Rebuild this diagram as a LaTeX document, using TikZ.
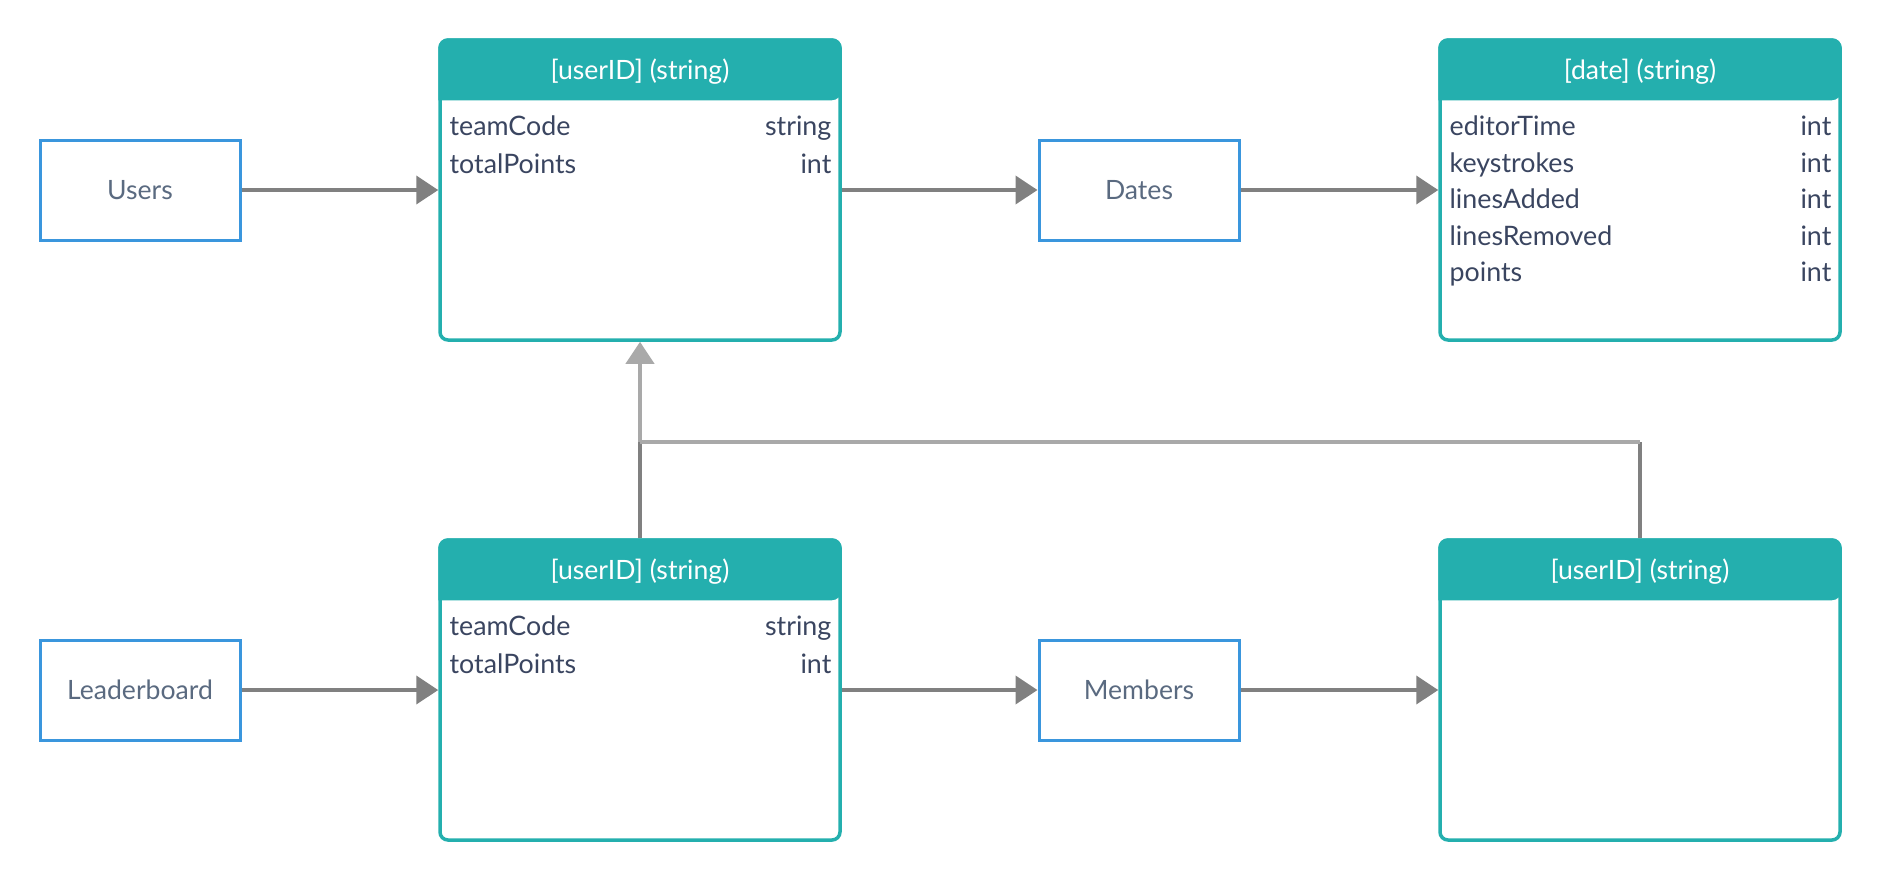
\documentclass[tikz,border=0pt]{standalone}
\usepackage{fontspec}
\setmainfont{Lato}
\usetikzlibrary{arrows.meta}

\definecolor{tealhead}{HTML}{24AFAE}
\definecolor{boxblue}{HTML}{3A96DD}
\definecolor{linedark}{HTML}{808080}
\definecolor{linelight}{HTML}{A9A9A9}
\definecolor{rowtext}{HTML}{3A4560}
\definecolor{labeltext}{HTML}{5A6A80}

\tikzset{
  entity/.style={draw=boxblue, line width=1.5pt, minimum width=100pt, minimum height=50pt,
    inner sep=0pt, text=labeltext, font=\fontsize{13.3}{15}\selectfont},
  tablebox/.style={draw=tealhead, line width=1.75pt, rounded corners=4pt,
    minimum width=200pt, minimum height=150pt, inner sep=0pt},
  headtext/.style={text=white, inner sep=0pt, font=\fontsize{13.3}{15}\selectfont},
  rowleft/.style={anchor=west, inner sep=0pt, text=rowtext, text height=9pt, text depth=2.5pt,
    font=\fontsize{13.4}{15}\selectfont},
  rowright/.style={rowleft, anchor=east},
  arr/.style={draw=linedark, line width=2pt, -{Triangle[length=11pt,width=14pt]}},
  arrlight/.style={arr, draw=linelight, fill=linelight},
  stem/.style={draw=linedark, line width=2pt},
  stemlight/.style={draw=linelight, line width=2pt}
}

\begin{document}
\begin{tikzpicture}[x=0.5pt,y=-0.5pt]
\useasboundingbox (0,0) rectangle (1880,880);

% boxes on the left and in the middle
\node[entity] (users) at (140,190) {Users};
\node[entity] (dates) at (1139,190) {Dates};
\node[entity] (leaderboard) at (140,690) {Leaderboard};
\node[entity] (members) at (1139,690) {Members};

% tables
\node[tablebox] (t1) at (640,190) {};
\node[tablebox] (tdate) at (1640,190) {};
\node[tablebox] (t3) at (640,690) {};
\node[tablebox] (t4) at (1640,690) {};

\foreach \t in {t1,tdate,t3,t4}
\fill[tealhead] ([yshift=-31pt]\t.north west) [rounded corners=5pt] |- (\t.north)
  -| ([yshift=-31pt]\t.north east) [sharp corners] -- cycle;

\node[headtext] (h1) at ([yshift=-16.5pt]t1.north) {[userID] (string)};
\node[headtext] (hdate) at ([yshift=-16.5pt]tdate.north) {[date] (string)};
\node[headtext] (h3) at ([yshift=-16.5pt]t3.north) {[userID] (string)};
\node[headtext] (h4) at ([yshift=-16.5pt]t4.north) {[userID] (string)};

% rows
\foreach \t in {t1,t3}
\foreach \name/\kind [count=\i] in {teamCode/string,totalPoints/int}{
  \node[rowleft] (\t l\i) at ([xshift=5.5pt,yshift=-45.5pt-(\i-1)*18.75pt]\t.north west) {\name};
  \node[rowright] (\t r\i) at ([xshift=-5pt,yshift=-45.5pt-(\i-1)*18.75pt]\t.north east) {\kind};
}
\foreach \name [count=\i] in {editorTime,keystrokes,linesAdded,linesRemoved,points}{
  \node[rowleft] (tdate l\i) at ([xshift=5.5pt,yshift=-45.5pt-(\i-1)*18.25pt]tdate.north west) {\name};
  \node[rowright] (tdate r\i) at ([xshift=-5pt,yshift=-45.5pt-(\i-1)*18.25pt]tdate.north east) {int};
}

% connectors
\draw[arr] (users) -- (t1);
\draw[arr] (t1) -- (dates);
\draw[arr] (dates) -- (tdate);
\draw[arr] (leaderboard) -- (t3);
\draw[arr] (t3) -- (members);
\draw[arr] (members) -- (t4);

\coordinate (junc) at (640,442);
\coordinate (corner) at (1640,442);
\draw[stem] (t3.north) -- (junc);
\draw[stem] (t4.north) -- (corner);
\draw[stemlight] (corner) -- (junc);
\draw[arrlight] (junc) -- (t1.south);
\end{tikzpicture}
\end{document}
